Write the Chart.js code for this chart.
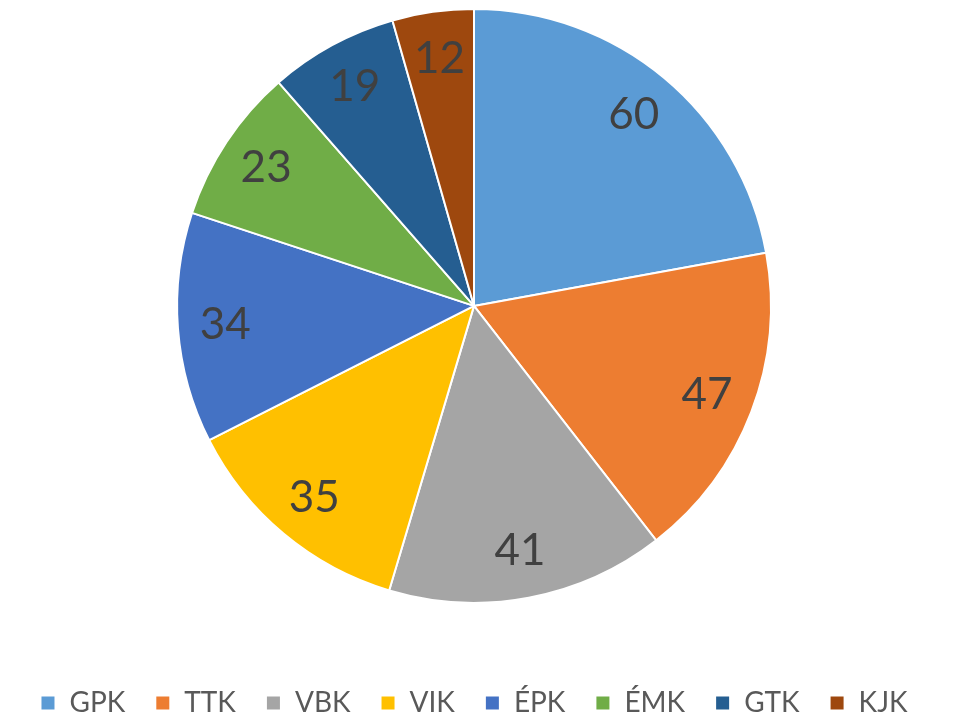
<!DOCTYPE html>
<html><head><meta charset="utf-8">
<script src="https://cdn.jsdelivr.net/npm/chart.js@4/dist/chart.umd.min.js"></script>
<style>html,body{margin:0;padding:0;background:#fff}#wrap{width:964px;height:714px}</style>
</head><body><div id="wrap"><canvas id="c" width="964" height="714"></canvas></div>
<script>
const categories = ['GPK','TTK','VBK','VIK','ÉPK','ÉMK','GTK','KJK'];
const values = [60,47,41,35,34,23,19,12];
const colors = ['#5B9BD5','#ED7D31','#A5A5A5','#FFC000','#4472C4','#70AD47','#255E91','#9E480E'];

const labelPlugin = {
  id: 'sliceLabels',
  afterDatasetsDraw(chart) {
    const ctx = chart.ctx;
    const meta = chart.getDatasetMeta(0);
    ctx.save();
    ctx.font = '44px Lato, "Open Sans", sans-serif';
    ctx.fillStyle = '#404040';
    ctx.textAlign = 'center';
    ctx.textBaseline = 'middle';
    meta.data.forEach((arc, i) => {
      const p = arc.getProps(['x','y','startAngle','endAngle','outerRadius'], true);
      const a = (p.startAngle + p.endAngle) / 2;
      const r = p.outerRadius * 0.84;
      ctx.fillText(String(values[i]), p.x + Math.cos(a) * r, p.y + Math.sin(a) * r);
    });
    ctx.restore();
  }
};

new Chart(document.getElementById('c'), {
  type: 'pie',
  data: { labels: categories, datasets: [{ data: values, backgroundColor: colors, borderColor: '#ffffff', borderWidth: 2 }] },
  options: {
    responsive: false,
    animation: false,
    layout: { padding: { top: 8, bottom: -13, left: 0, right: 16 } },
    plugins: {
      tooltip: { enabled: false },
      legend: {
        position: 'bottom',
        title: { display: true, text: ' ', font: { size: 1 }, padding: { top: 54, bottom: 0 } },
        labels: {
          boxWidth: 15, boxHeight: 15, padding: 30,
          color: '#595959',
          font: { family: 'Lato, "Open Sans", sans-serif', size: 28 }
        }
      }
    }
  },
  plugins: [labelPlugin]
});
</script>
</body></html>
